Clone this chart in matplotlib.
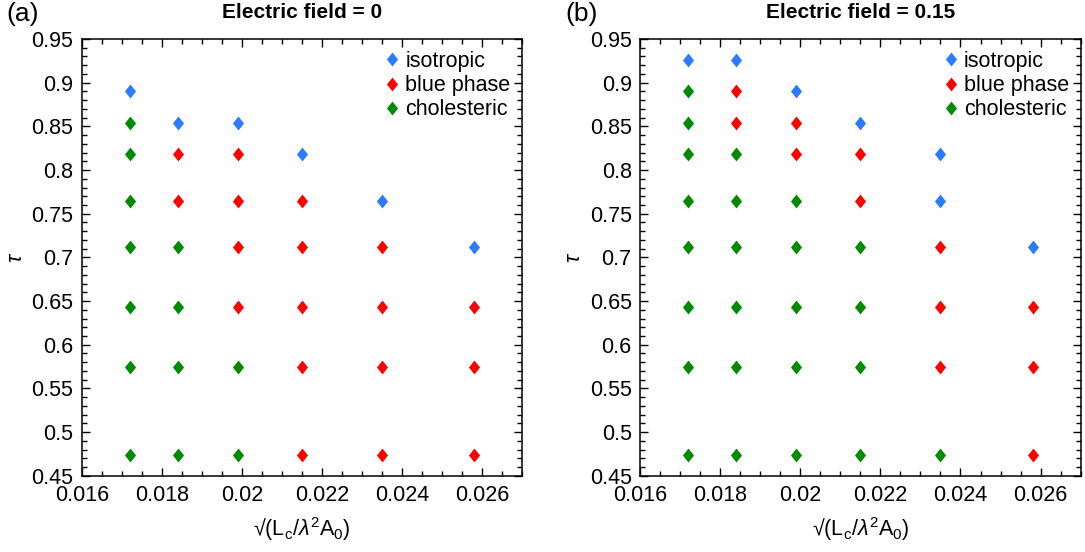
import matplotlib
matplotlib.use("Agg")
import matplotlib.pyplot as plt
from matplotlib.path import Path
from matplotlib.ticker import MultipleLocator

plt.rcParams['font.family'] = ['Liberation Sans', 'DejaVu Sans']
plt.rcParams['mathtext.fontset'] = 'custom'
plt.rcParams['mathtext.rm'] = 'Liberation Sans'
plt.rcParams['mathtext.it'] = 'Liberation Sans:italic'

# grid of sampled parameters
x_vals = [0.0172, 0.0184, 0.0199, 0.0215, 0.0235, 0.0258]
tau_vals = [0.474, 0.575, 0.643, 0.712, 0.765, 0.818, 0.854, 0.890, 0.926]

phases = ["isotropic", "blue phase", "cholesteric"]
colors = {"isotropic": "#2b7bff", "blue phase": "#ff0000", "cholesteric": "#008a00"}

# phase per column (index into tau_vals) for each field strength
# field = 0
field0_iso = {0: [7], 1: [6], 2: [6], 3: [5], 4: [4], 5: [3]}
field0_blue = {0: [], 1: [4, 5], 2: [2, 3, 4, 5], 3: [0, 1, 2, 3, 4], 4: [0, 1, 2, 3], 5: [0, 1, 2]}
field0_chol = {0: [0, 1, 2, 3, 4, 5, 6], 1: [0, 1, 2, 3], 2: [0, 1], 3: [], 4: [], 5: []}

# field = 0.15
field15_iso = {0: [8], 1: [8], 2: [7], 3: [6], 4: [4, 5], 5: [3]}
field15_blue = {0: [], 1: [6, 7], 2: [5, 6], 3: [4, 5], 4: [1, 2, 3], 5: [0, 1, 2]}
field15_chol = {0: [0, 1, 2, 3, 4, 5, 6, 7], 1: [0, 1, 2, 3, 4, 5], 2: [0, 1, 2, 3, 4], 3: [0, 1, 2, 3], 4: [0], 5: []}

panels = [
    ("(a)", "Electric field = 0", [field0_iso, field0_blue, field0_chol]),
    ("(b)", "Electric field = 0.15", [field15_iso, field15_blue, field15_chol]),
]

diamond = Path([(0, 1), (0.8, 0), (0, -1), (-0.8, 0), (0, 1)],
               [Path.MOVETO, Path.LINETO, Path.LINETO, Path.LINETO, Path.CLOSEPOLY])

FS = 15.5

fig = plt.figure(figsize=(10.85, 5.52), dpi=100)
axes_rects = [[0.0753, 0.1382, 0.4061, 0.7911], [0.5899, 0.1382, 0.4061, 0.7911]]
tag_x = [0.006, 0.521]

for rect, tx, (tag, title, groups) in zip(axes_rects, tag_x, panels):
    ax = fig.add_axes(rect)
    for name, grp in zip(phases, groups):
        xs, ys = [], []
        for col, rows in grp.items():
            for r in rows:
                xs.append(x_vals[col])
                ys.append(tau_vals[r])
        ax.plot(xs, ys, linestyle='none', marker=diamond, markersize=10,
                color=colors[name], markeredgewidth=0, label=name)
    ax.set_xlim(0.016, 0.027)
    ax.set_ylim(0.45, 0.95)
    ax.xaxis.set_minor_locator(MultipleLocator(0.0005))
    ax.yaxis.set_minor_locator(MultipleLocator(0.01))
    ax.set_xticks([0.016, 0.018, 0.020, 0.022, 0.024, 0.026])
    ax.set_xticklabels(["0.016", "0.018", "0.02", "0.022", "0.024", "0.026"])
    yt = [0.45, 0.5, 0.55, 0.6, 0.65, 0.7, 0.75, 0.8, 0.85, 0.9, 0.95]
    ax.set_yticks(yt)
    ax.set_yticklabels(["0.45", "0.5", "0.55", "0.6", "0.65", "0.7", "0.75",
                        "0.8", "0.85", "0.9", "0.95"])
    ax.tick_params(which='both', direction='in', top=True, right=True,
                   labelsize=FS, width=1.0)
    ax.tick_params(axis='x', which='major', pad=7)
    ax.tick_params(axis='y', which='major', pad=6)
    ax.tick_params(which='major', length=6)
    ax.tick_params(which='minor', length=3.5)
    for s in ax.spines.values():
        s.set_linewidth(1.1)
    ax.set_title(title, fontsize=15, fontweight='bold', pad=15)
    ax.set_xlabel(r'√(L$_\mathrm{c}$/$\lambda^\mathrm{2}$A$_\mathrm{0}$)', fontsize=FS, labelpad=6)
    ax.set_ylabel(r'$\tau$', fontsize=FS)
    ax.yaxis.set_label_coords(-0.124, 0.5)
    fig.text(tx, 0.975, tag, fontsize=19, ha='left', va='center')
    ax.legend(loc='upper right', bbox_to_anchor=(1.0, 1.0), frameon=False,
              fontsize=FS, handlelength=0.8, handletextpad=0.2,
              labelspacing=0.15, borderaxespad=0.15)

fig.savefig("out.png", dpi=100)
